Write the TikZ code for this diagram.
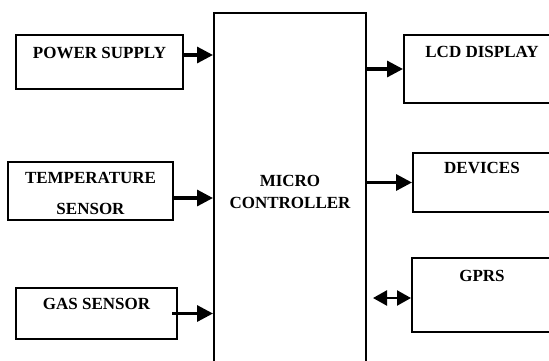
\documentclass[tikz,border=0pt]{standalone}
\usepackage{fontspec}
\setmainfont{Liberation Serif}
\usetikzlibrary{arrows.meta}

\begin{document}
\begin{tikzpicture}[x=1pt,y=-1pt,font=\fontsize{17}{22}\selectfont\bfseries]
    \tikzstyle{block}=[rectangle,draw=black,line width=2pt,inner sep=0pt,anchor=north west]
    \tikzstyle{conn}=[line width=3.2pt,-{Triangle[length=16pt,width=16pt]}]
    \useasboundingbox (0,0) rectangle (549,360);
    \clip (0,0) rectangle (549,360);

    % name/left/top/width/height
    \foreach \name/\x/\y/\w/\h in {pwr/15/34/167/54, temp/7/161/165/58, gas/15/287/161/51,
            mcu/213/12/152/380, lcd/403/34/200/68, dev/412/152/200/59, gprs/411/257/200/74}
        \node[block,minimum width=\w pt,minimum height=\h pt] (\name) at (\x,\y) {};

    \node (pwr-l) at ([yshift=-19pt]pwr.north) {POWER SUPPLY};
    \node (temp-l1) at ([yshift=-17pt]temp.north) {TEMPERATURE};
    \begin{scope}
        \clip ([yshift=-30pt]temp.north west) rectangle ([yshift=6pt]temp.south east);
        \node (temp-l2) at ([yshift=-48pt]temp.north) {SENSOR};
    \end{scope}
    \node (gas-l) at ([yshift=-17pt]gas.north) {GAS SENSOR};
    \node[align=center] (mcu-l) at ([yshift=-180pt]mcu.north) {MICRO\\CONTROLLER};
    \node (lcd-l) at ([xshift=79pt,yshift=-18pt]lcd.north west) {LCD DISPLAY};
    \node (dev-l) at ([xshift=70pt,yshift=-16pt]dev.north west) {DEVICES};
    \node (gprs-l) at ([xshift=71pt,yshift=-19pt]gprs.north west) {GPRS};

    % inputs
    \coordinate (pwr-out) at ([yshift=7pt]pwr.east);
    \coordinate (temp-out) at ([yshift=-7pt]temp.east);
    \coordinate (gprs-in) at ([xshift=6pt,yshift=-3pt]gprs.west -| mcu.east);
    \draw[conn] (pwr-out) -- (pwr-out -| mcu.west);
    \draw[conn] (temp-out) -- (temp-out -| mcu.west);
    \draw[conn] ([xshift=-6pt]gas.east) -- (gas.east -| mcu.west);

    % outputs
    \foreach \to in {lcd,dev}
        \draw[conn] (\to.west -| mcu.east) -- (\to.west);
    \draw[conn,line width=2.4pt,{Triangle[length=14pt,width=15pt]}-{Triangle[length=14pt,width=15pt]}] (gprs-in) -- (gprs-in -| gprs.west);
\end{tikzpicture}
\end{document}
